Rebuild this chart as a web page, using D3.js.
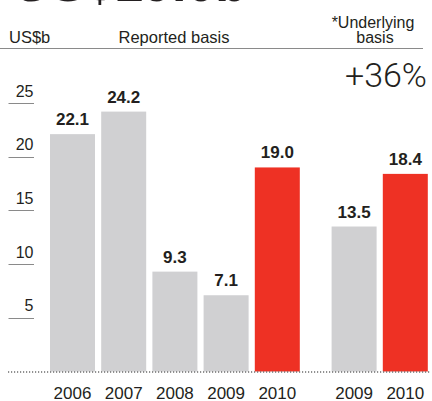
<!DOCTYPE html>
<html>
<head>
<meta charset="utf-8">
<script src="https://cdn.jsdelivr.net/npm/d3@7"></script>
<style>
  body { margin: 0; background: #fff; }
  text { font-family: "Liberation Sans", Arial, sans-serif; fill: #231f20; }
</style>
</head>
<body>
<div id="chart"></div>
<script>
//---------------- data ----------------------
var reportedYears = ["2006", "2007", "2008", "2009", "2010"];
var reportedValues = [22.1, 24.2, 9.3, 7.1, 19.0];
var underlyingYears = ["2009", "2010"];
var underlyingValues = [13.5, 18.4];
var yTicks = [5, 10, 15, 20, 25];
var highlightYear = "2010";

var w = 432;
var h = 401;
var barWidth = 45;
var grey = "#d0d0d2";
var red = "#ee3124";

// one list of bars, the underlying group sits 1.5 slots after the reported one
var bars = [];
reportedYears.forEach(function(y, i) {
	bars.push({ year: y, value: reportedValues[i], slot: i });
});
underlyingYears.forEach(function(y, i) {
	bars.push({ year: y, value: underlyingValues[i], slot: reportedYears.length + 0.5 + i });
});

//---------------- scales ----------------------
var xScale = d3.scaleLinear()
		.domain([0, 1])
		.range([50, 101.2]);

var yScale = d3.scaleLinear()
		.domain([0, 25])
		.range([371.5, 103]);

var svg = d3.select("#chart").append("svg")
		.attr("width", w)
		.attr("height", h);

//---------------- header ----------------------
// big title, mostly cropped off the top
svg.append("text")
	.attr("x", 13)
	.attr("y", 1)
	.style("font-size", "52px")
	.style("font-weight", "bold")
	.text("US$19.0b");

svg.append("text")
	.attr("x", 9)
	.attr("y", 43)
	.style("font-size", "16.5px")
	.text("US$b");

svg.append("text")
	.attr("x", 174)
	.attr("y", 43)
	.style("font-size", "16.5px")
	.style("text-anchor", "middle")
	.text("Reported basis");

svg.append("text")
	.attr("x", 373)
	.attr("y", 27.5)
	.style("font-size", "16px")
	.style("text-anchor", "middle")
	.text("*Underlying");

svg.append("text")
	.attr("x", 375)
	.attr("y", 43)
	.style("font-size", "16px")
	.style("text-anchor", "middle")
	.text("basis");

svg.append("line")
	.attr("x1", 0)
	.attr("x2", 423)
	.attr("y1", 48.5)
	.attr("y2", 48.5)
	.attr("stroke", "#8a8a8a")
	.attr("stroke-width", 1);

svg.append("text")
	.attr("x", 427)
	.attr("y", 87)
	.style("font-family", "Roboto, 'Liberation Sans', sans-serif")
	.style("font-weight", 300)
	.style("font-size", "34px")
	.style("text-anchor", "end")
	.text("+36%");

//---------------- y ticks ----------------------
var ticks = svg.append("g");

ticks.selectAll("line")
	.data(yTicks)
	.enter()
	.append("line")
	.attr("x1", 8.5)
	.attr("x2", 34)
	.attr("y1", function(d) { return Math.round(yScale(d)) + 0.5; })
	.attr("y2", function(d) { return Math.round(yScale(d)) + 0.5; })
	.attr("stroke", "#8a8a8a")
	.attr("stroke-width", 1);

ticks.selectAll("text")
	.data(yTicks)
	.enter()
	.append("text")
	.attr("x", 33.5)
	.attr("y", function(d) { return yScale(d) - 6.5; })
	.style("font-size", "16px")
	.style("text-anchor", "end")
	.text(function(d) { return d; });

//---------------- bars ----------------------
svg.selectAll("rect.bar")
	.data(bars)
	.enter()
	.append("rect")
	.attr("class", "bar")
	.attr("x", function(d) { return xScale(d.slot); })
	.attr("y", function(d) { return yScale(d.value); })
	.attr("width", barWidth)
	.attr("height", function(d) { return yScale(0) - yScale(d.value); })
	.attr("fill", function(d) { return d.year === highlightYear ? red : grey; });

svg.selectAll("text.value")
	.data(bars)
	.enter()
	.append("text")
	.attr("class", "value")
	.attr("x", function(d) { return xScale(d.slot) + barWidth / 2; })
	.attr("y", function(d) { return yScale(d.value) - 9; })
	.style("font-size", "17px")
	.style("font-weight", "bold")
	.style("text-anchor", "middle")
	.text(function(d) { return d.value.toFixed(1); });

svg.selectAll("text.year")
	.data(bars)
	.enter()
	.append("text")
	.attr("class", "year")
	.attr("x", function(d) { return xScale(d.slot) + barWidth / 2; })
	.attr("y", 399)
	.style("font-size", "17px")
	.style("text-anchor", "middle")
	.text(function(d) { return d.year; });

// dotted baseline
svg.append("line")
	.attr("x1", 8)
	.attr("x2", 431)
	.attr("y1", yScale(0) + 0.5)
	.attr("y2", yScale(0) + 0.5)
	.attr("stroke", "#6d6d6d")
	.attr("stroke-width", 1.5)
	.attr("stroke-dasharray", "1.2,1.8");
</script>
</body>
</html>
